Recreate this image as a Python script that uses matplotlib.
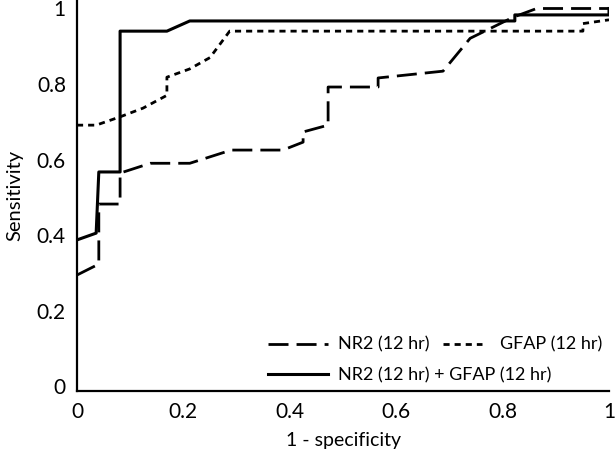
import numpy as np
import matplotlib
matplotlib.use("Agg")
import matplotlib.pyplot as plt

plt.rcParams['font.family'] = ['Lato', 'DejaVu Sans']

# ROC curves
nr2_x = [0, 0.041, 0.041, 0.081, 0.081, 0.138, 0.212, 0.29, 0.387, 0.425, 0.425,
         0.472, 0.472, 0.566, 0.566, 0.688, 0.739, 0.82, 0.864, 1.0]
nr2_y = [0.294, 0.323, 0.482, 0.482, 0.564, 0.59, 0.59, 0.625, 0.625, 0.646, 0.673,
         0.691, 0.792, 0.792, 0.816, 0.834, 0.921, 0.977, 1.0, 1.0]

gfap_x = [0, 0.036, 0.081, 0.124, 0.169, 0.169, 0.212, 0.25, 0.287, 0.951, 0.951, 1.0]
gfap_y = [0.691, 0.691, 0.713, 0.736, 0.77, 0.818, 0.84, 0.87, 0.94, 0.94, 0.96, 0.97]

comb_x = [0, 0.036, 0.041, 0.081, 0.081, 0.169, 0.212, 0.823, 0.823, 1.0, 1.0]
comb_y = [0.387, 0.405, 0.567, 0.567, 0.94, 0.94, 0.967, 0.967, 0.983, 0.983, 1.0]

ticks = [0, 0.2, 0.4, 0.6, 0.8, 1]
tick_labels = ['0', '0.2', '0.4', '0.6', '0.8', '1']

fig = plt.figure(figsize=(6.15, 4.53), dpi=100)
ax = fig.add_axes([77/615, 62/453, 532/615, 391/453])

l1, = ax.plot(nr2_x, nr2_y, color='black', lw=2, dashes=(7.2, 2.9), label='NR2 (12 hr)')
l2, = ax.plot(gfap_x, gfap_y, color='black', lw=2, dashes=(2.2, 1.8), label='GFAP (12 hr)')
l3, = ax.plot(comb_x, comb_y, color='black', lw=2.2, label='NR2 (12 hr) + GFAP (12 hr)')

ax.set_xlim(0, 1.0)
ax.set_ylim(-0.0132, 1.0225)
ax.set_xticks(ticks)
ax.set_xticklabels(tick_labels)
ax.set_yticks(ticks)
ax.set_yticklabels(tick_labels)
ax.tick_params(length=0, labelsize=15, pad=8)
for s in ['top', 'right']:
    ax.spines[s].set_visible(False)
for s in ['left', 'bottom']:
    ax.spines[s].set_linewidth(1.6)

ax.set_xlabel('1 - specificity', fontsize=14, labelpad=7)
ax.set_ylabel('Sensitivity', fontsize=14.5, labelpad=10)

# three single-entry legends to mimic the original layout
leg_kw = dict(frameon=False, fontsize=13, loc='center left', borderpad=0,
              borderaxespad=0)
lg1 = ax.legend(handles=[l1], bbox_to_anchor=(0.359, 0.118),
                handlelength=3.3, handletextpad=0.55, **leg_kw)
ax.add_artist(lg1)
lg2 = ax.legend(handles=[l2], bbox_to_anchor=(0.688, 0.118),
                handlelength=2.15, handletextpad=1.0, **leg_kw)
ax.add_artist(lg2)
ax.legend(handles=[l3], bbox_to_anchor=(0.359, 0.041),
          handlelength=3.3, handletextpad=0.55, **leg_kw)

fig.savefig('out.png', dpi=100)
